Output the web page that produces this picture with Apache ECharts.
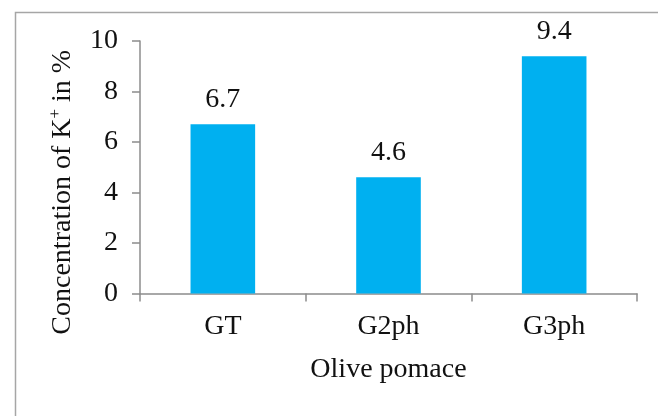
<!DOCTYPE html>
<html>
<head>
<meta charset="utf-8">
<script src="https://cdn.jsdelivr.net/npm/echarts@6/dist/echarts.min.js"></script>
<style>
  html, body { margin: 0; padding: 0; background: #fff; }
  #chart { width: 658px; height: 416px; }
</style>
</head>
<body>
<div id="chart"></div>
<script>
// Potassium content per olive pomace type
const categories = ['GT', 'G2ph', 'G3ph'];
const potassium = [6.7, 4.6, 9.4];
const yTicks = { min: 0, max: 10, interval: 2 };

const serif = 'Liberation Serif, Times New Roman, serif';
const axisGray = '#8c8c8c';
const textColor = '#111';

const chart = echarts.init(document.getElementById('chart'), null, { renderer: 'canvas' });

chart.setOption({
  animation: false,
  backgroundColor: '#fff',
  graphic: [{
    type: 'rect',
    left: 13, top: 10,
    shape: { width: 700, height: 500 },
    style: { fill: 'none', stroke: '#a6a6a6', lineWidth: 1.5 },
    silent: true
  }],
  grid: { left: 140, right: 21, top: 41, bottom: 122.5, containLabel: false },
  xAxis: {
    type: 'category',
    data: categories,
    name: 'Olive pomace',
    nameLocation: 'middle',
    nameGap: 62,
    nameTextStyle: { fontFamily: serif, fontSize: 28, color: textColor },
    axisLine: { lineStyle: { color: axisGray, width: 1.5 } },
    axisTick: { show: true, length: 8, lineStyle: { color: axisGray, width: 1.5 } },
    axisLabel: { fontFamily: serif, fontSize: 28, color: textColor, margin: 19 }
  },
  yAxis: {
    type: 'value',
    min: yTicks.min,
    max: yTicks.max,
    interval: yTicks.interval,
    name: '{a|Concentration of K}{s|+}{a| in %}',
    nameLocation: 'middle',
    nameGap: 61,
    nameRotate: 90,
    nameTextStyle: {
      padding: [0, 50, 0, 0],
      rich: {
        a: { fontFamily: serif, fontSize: 28, color: textColor, lineHeight: 32 },
        s: { fontFamily: serif, fontSize: 17, color: textColor, verticalAlign: 'top', lineHeight: 32 }
      }
    },
    splitLine: { show: false },
    axisLine: { show: true, lineStyle: { color: axisGray, width: 1.5 } },
    axisTick: { show: true, length: 8, lineStyle: { color: axisGray, width: 1.5 } },
    axisLabel: { fontFamily: serif, fontSize: 28, color: textColor, margin: 22 }
  },
  series: [{
    type: 'bar',
    data: potassium,
    barWidth: '39%',
    itemStyle: { color: '#00b0f0' },
    label: {
      show: true,
      position: 'top',
      distance: 11,
      fontFamily: serif,
      fontSize: 28,
      color: textColor
    }
  }]
});
</script>
</body>
</html>
